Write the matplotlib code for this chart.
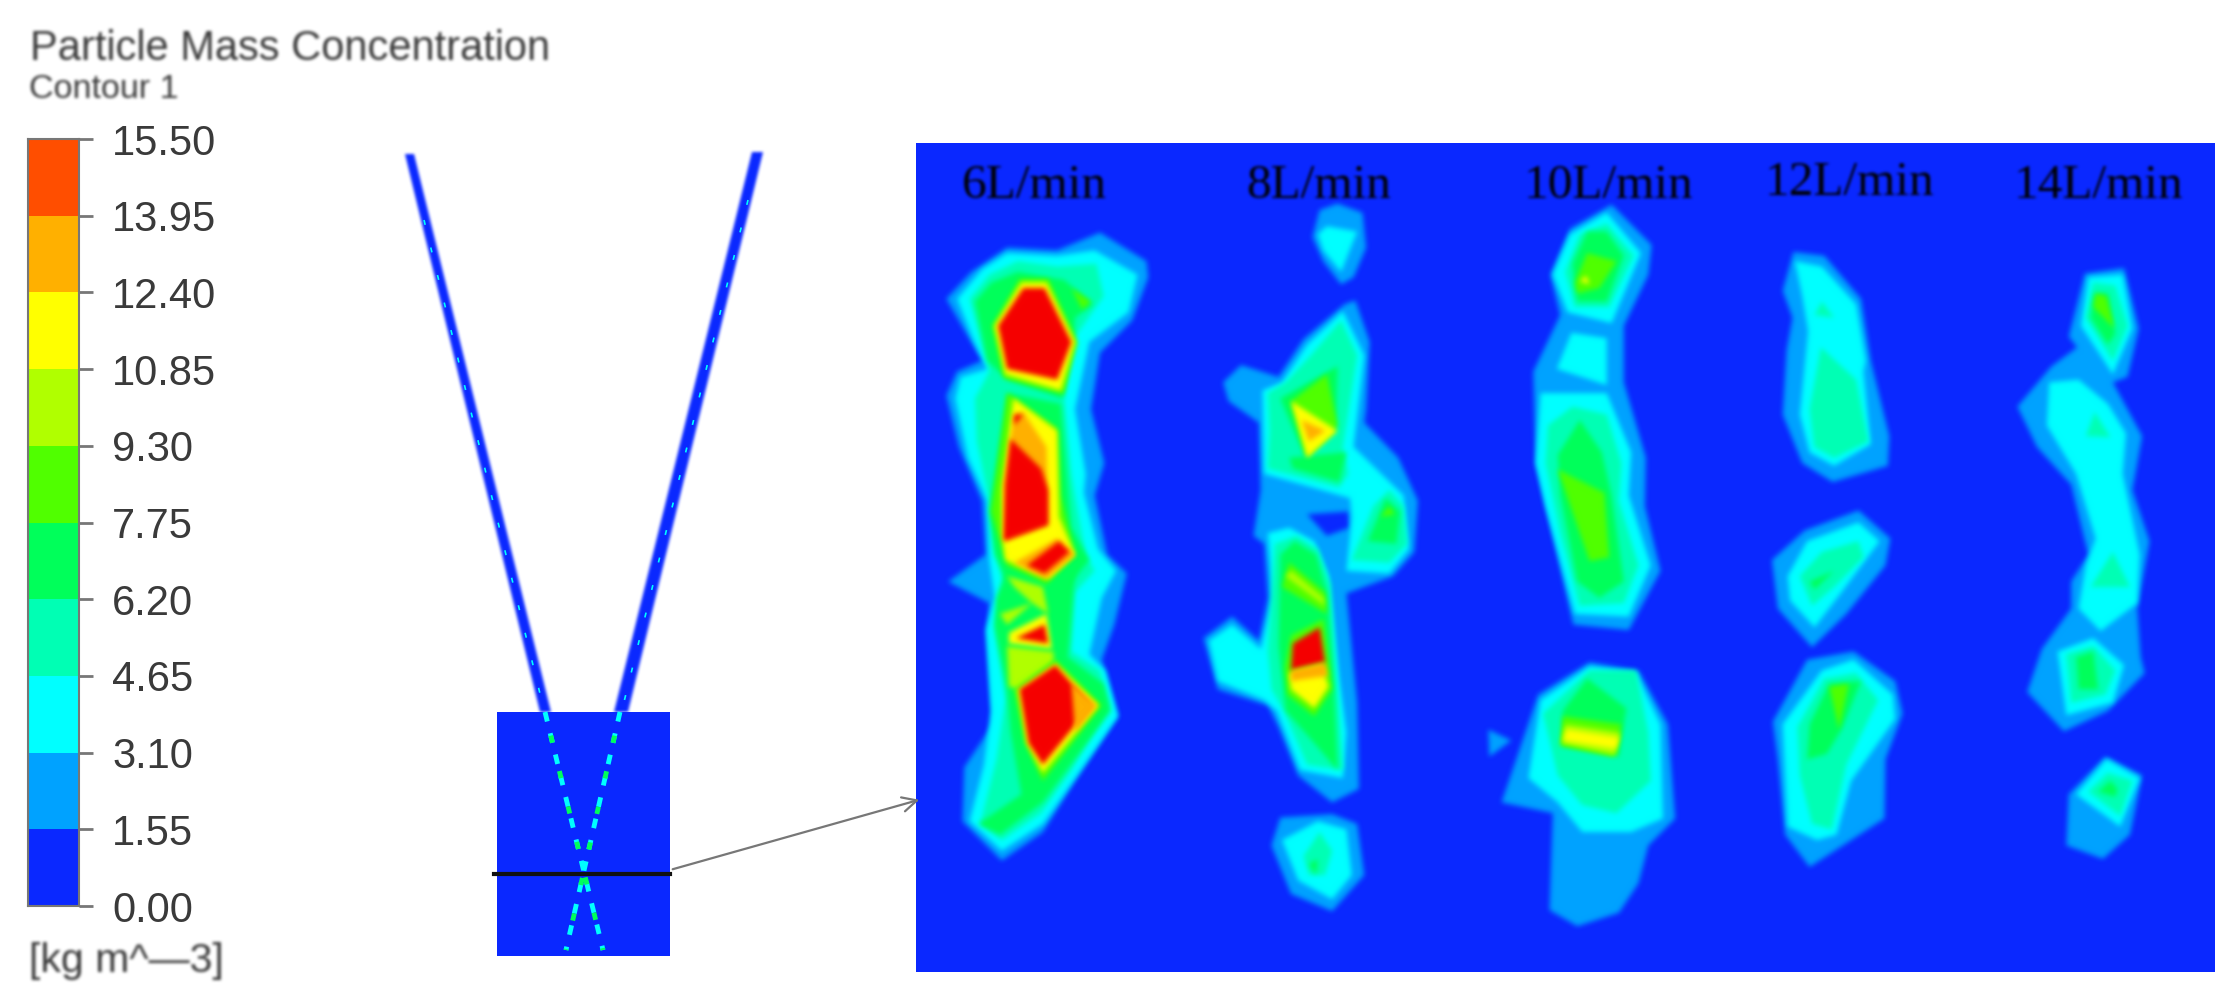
import numpy as np
import matplotlib
matplotlib.use('Agg')
import matplotlib.pyplot as plt
from matplotlib.colors import to_rgb

# legend levels and colours
levels = [0.00, 1.55, 3.10, 4.65, 6.20, 7.75, 9.30, 10.85, 12.40, 13.95, 15.50]
level_labels = ['0.00', '1.55', '3.10', '4.65', '6.20', '7.75', '9.30', '10.85', '12.40', '13.95', '15.50']
level_colors = ['#0a28ff', '#00a2ff', '#00ffff', '#00ffb4', '#00ff5a', '#50ff00',
                '#b0ff00', '#ffff00', '#ffb000', '#ff4e00']
RED = '#f50000'
cols = level_colors + [RED]

flow_labels = ['6L/min', '8L/min', '10L/min', '12L/min', '14L/min']
flow_x = [1034, 1319, 1608, 1849, 2098]
flow_y = [186, 186, 186, 183, 186]

# contour bands: (band, outline), outline
blobs_6 = [
    (1, [(130,295),(200,245),(300,200),(440,205),(560,172),(690,225),(695,255),(650,335),(560,395),(535,500),(572,600),(545,660),(580,770),(635,805),(600,900),(565,965),(610,1070),(490,1190),(400,1285),(285,1338),(175,1265),(180,1165),(260,1085),(245,900),(250,860),(135,820),(240,770),(230,670),(165,570),(130,475),(160,430),(230,410)]),
    (2, [(160,295),(230,240),(300,210),(440,215),(545,205),(665,250),(640,320),(530,375),(490,500),(520,620),(515,655),(555,760),(605,800),(565,850),(530,955),(575,985),(610,1070),(490,1185),(400,1270),(285,1320),(195,1265),(235,1160),(255,1060),(240,910),(265,850),(250,780),(245,670),(190,590),(155,480),(170,440),(245,425),(205,370)]),
    (3, [(195,295),(250,250),(330,225),(440,235),(550,230),(570,290),(480,375),(460,480),(480,620),(490,660),(520,770),(545,800),(490,840),(480,950),(560,985),(585,1050),(480,1170),(395,1250),(285,1300),(225,1270),(270,1150),(295,1040),(265,910),(285,820),(260,720),(250,670),(215,560),(210,480),(250,430)]),
    (4, [(210,300),(255,265),(330,245),(460,260),(540,305),(490,330),(485,375),(455,480),(300,445),(245,410)]),
    (4, [(250,690),(300,470),(450,490),(480,720),(530,780),(470,830),(300,820),(265,770)]),
    (4, [(265,900),(270,850),(300,800),(490,800),(470,960),(570,1010),(590,1060),(400,1230),(280,1290),(220,1270),(340,1215),(310,1100),(300,1020)]),
    (5, [(480,275),(535,300),(510,315)]),
    (5, [(258,345),(335,258),(415,258),(497,375),(458,472),(290,442)]),
    (7, [(265,345),(340,265),(410,265),(490,375),(450,465),(295,435)]),
    (10, [(275,345),(345,275),(405,275),(480,375),(440,445),(300,425)]),
    (5, [(300,470),(440,535),(450,660),(490,770),(410,825),(300,790),(255,690)]),
    (7, [(318,480),(440,540),(445,700),(490,770),(415,815),(295,780),(285,730),(285,650)]),
    (8, [(320,510),(345,505),(410,570),(415,715),(295,745),(290,640),(310,550)]),
    (10, [(310,555),(395,610),(415,650),(415,715),(290,745),(295,640)]),
    (10, [(320,530),(345,510),(320,510)]),
    (8, [(320,785),(440,740),(490,770),(410,815)]),
    (10, [(355,790),(445,745),(475,765),(405,805)]),
    (6, [(300,810),(400,830),(415,880),(370,860),(320,830)]),
    (6, [(280,880),(370,860),(300,900)]),
    (7, [(305,915),(410,880),(425,945),(305,935)]),
    (10, [(325,925),(405,900),(415,935)]),
    (6, [(300,940),(430,950),(430,970),(330,1020),(305,1015)]),
    (5, [(320,1020),(435,965),(565,1050),(400,1190),(350,1120)]),
    (7, [(330,1020),(435,972),(555,1050),(400,1175),(355,1120)]),
    (10, [(335,1020),(435,975),(535,1050),(400,1160),(360,1120)]),
    (8, [(480,1010),(552,1050),(490,1100)]),
]

blobs_8 = [
    (1, [(1155,180),(1175,130),(1225,118),(1295,135),(1305,200),(1270,255),(1235,268),(1185,225)]),
    (2, [(1170,175),(1195,160),(1280,170),(1235,245),(1185,205)]),
    (1, [(905,450),(955,418),(1060,440),(1130,370),(1245,305),(1275,298),(1315,375),(1305,500),(1300,525),(1395,590),(1450,670),(1440,765),(1380,810),(1250,842),(1280,1045),(1285,1205),(1210,1230),(1115,1180),(1060,1090),(1030,1050),(890,1020),(850,925),(930,885),(1005,930),(1030,850),(1020,750),(990,735),(1010,650),(1005,525),(920,485)]),
    (0, [(1140,695),(1255,690),(1258,720),(1195,735)]),
    (2, [(1015,465),(1070,450),(1140,380),(1240,318),(1300,400),(1270,570),(1410,660),(1425,760),(1370,805),(1250,800),(1265,700),(1260,665),(1020,620)]),
    (2, [(1030,730),(1090,720),(1160,745),(1200,810),(1230,1000),(1250,1100),(1240,1185),(1120,1170),(1055,1060),(1020,1040),(890,1005),(865,930),(930,900),(1010,945),(1045,850)]),
    (3, [(1030,470),(1080,450),(1150,400),(1235,335),(1280,400),(1240,570),(1255,620),(1230,645),(1030,610),(1035,540)]),
    (4, [(1090,590),(1250,580),(1230,635),(1100,610)]),
    (4, [(1065,480),(1225,420),(1220,540),(1135,590)]),
    (5, [(1095,485),(1195,435),(1225,530),(1140,590)]),
    (7, [(1095,485),(1225,540),(1140,590)]),
    (8, [(1125,520),(1190,540),(1145,560)]),
    (3, [(1265,780),(1325,680),(1370,650),(1410,680),(1420,750),(1370,785)]),
    (4, [(1310,745),(1360,665),(1400,690),(1390,750)]),
    (5, [(1345,700),(1370,680),(1385,695)]),
    (3, [(1050,750),(1110,735),(1170,760),(1205,825),(1225,1020),(1240,1170),(1140,1160),(1075,1060),(1040,1020),(1030,950)]),
    (4, [(1065,770),(1105,745),(1165,770),(1195,840),(1215,1020),(1225,1170),(1160,1120),(1080,1060),(1060,940)]),
    (5, [(1070,830),(1090,785),(1190,840),(1195,880)]),
    (6, [(1080,810),(1095,800),(1185,850),(1190,865)]),
    (5, [(1078,980),(1095,920),(1185,890),(1210,1020),(1160,1070),(1085,1030)]),
    (7, [(1090,990),(1180,975),(1200,1015),(1160,1055),(1095,1020)]),
    (10, [(1100,935),(1175,905),(1190,970),(1095,985)]),
    (8, [(1095,985),(1190,970),(1198,995),(1095,1005)]),
    (1, [(1040,1310),(1065,1258),(1210,1252),(1280,1270),(1300,1365),(1210,1432),(1095,1400)]),
    (2, [(1070,1300),(1170,1265),(1250,1280),(1265,1365),(1210,1410),(1115,1375)]),
    (3, [(1130,1330),(1175,1285),(1210,1320),(1190,1365),(1145,1365)]),
    (4, [(1145,1345),(1170,1335),(1165,1365)]),
]

blobs_10 = [
    (1, [(185,250),(225,165),(310,120),(392,195),(385,250),(335,345),(335,450),(380,590),(378,680),(410,800),(345,910),(232,900),(155,600),(150,430),(205,325)]),
    (2, [(190,250),(225,175),(300,135),(370,210),(310,340),(220,320)]),
    (3, [(215,245),(245,175),(300,155),(355,215),(305,310),(235,310)]),
    (4, [(230,230),(260,170),(300,170),(335,215),(300,300),(240,300)]),
    (5, [(235,265),(260,210),(320,225),(285,275),(240,285)]),
    (7, [(245,262),(258,252),(265,268)]),
    (2, [(198,425),(228,358),(300,368),(300,455)]),
    (2, [(165,470),(300,470),(350,580),(345,660),(390,790),(345,885),(235,880),(175,680),(155,600)]),
    (3, [(180,530),(230,495),(300,510),(330,600),(325,670),(365,790),(335,860),(245,865),(205,730),(175,600)]),
    (4, [(200,585),(245,520),(290,580),(310,660),(335,820),(285,850),(240,820),(205,660)]),
    (5, [(200,612),(295,655),(305,775),(265,782)]),
    (1, [(85,1230),(160,1030),(265,970),(365,985),(425,1085),(440,1260),(385,1310),(365,1380),(325,1435),(240,1460),(183,1430),(190,1250)]),
    (1, [(58,1095),(105,1115),(60,1145)]),
    (2, [(140,1185),(165,1040),(265,978),(360,990),(410,1085),(415,1260),(350,1285),(250,1285),(200,1230)]),
    (3, [(170,1065),(265,985),(360,985),(385,1100),(390,1190),(320,1250),(250,1235),(200,1180)]),
    (4, [(210,1060),(260,1000),(340,1055),(325,1145),(210,1125)]),
    (5, [(210,1070),(330,1085),(315,1145),(205,1125)]),
    (6, [(215,1085),(328,1100),(318,1142),(208,1120)]),
    (7, [(218,1095),(325,1110),(318,1130),(212,1115)]),
]

blobs_12 = [
    (1, [(660,280),(682,208),(745,215),(820,295),(840,410),(878,550),(875,605),(762,635),(700,600),(660,510),(668,390),(680,330)]),
    (2, [(685,225),(740,235),(810,305),(830,410),(825,430),(840,565),(765,605),(715,580),(695,510),(712,355),(700,290)]),
    (3, [(738,385),(810,445),(835,560),(765,590),(725,570),(715,500)]),
    (3, [(725,325),(740,300),(765,330)]),
    (1, [(638,780),(705,725),(815,688),(880,740),(870,790),(790,880),(720,942),(650,870)]),
    (2, [(670,810),(710,745),(815,710),(858,745),(780,840),(725,905),(675,855)]),
    (3, [(695,810),(740,765),(815,745),(825,775),(765,830),(720,865)]),
    (4, [(715,820),(765,800),(725,835)]),
    (1, [(640,1080),(710,965),(805,950),(890,1005),(905,1065),(870,1150),(868,1260),(715,1350),(665,1290),(650,1150)]),
    (2, [(660,1085),(740,985),(805,965),(885,1030),(890,1075),(800,1190),(770,1290),(730,1300),(670,1275)]),
    (3, [(690,1090),(745,1000),(810,990),(855,1040),(790,1160),(760,1280),(720,1270),(695,1180)]),
    (4, [(710,1150),(715,1085),(755,1010),(820,1005),(780,1095),(750,1140)]),
    (5, [(755,1015),(795,1010),(775,1095)]),
]

blobs_14 = [
    (1, [(1140,495),(1210,420),(1262,385),(1245,365),(1278,248),(1358,238),(1388,350),(1365,440),(1335,450),(1395,550),(1375,650),(1410,745),(1385,870),(1392,960),(1400,990),(1325,1060),(1235,1098),(1160,1025),(1190,945),(1250,870),(1250,820),(1285,770),(1250,640),(1180,570)]),
    (2, [(1270,345),(1285,255),(1355,250),(1375,350),(1335,435)]),
    (3, [(1280,330),(1295,265),(1340,270),(1365,345),(1335,410)]),
    (4, [(1290,330),(1298,285),(1325,285),(1340,360),(1325,380)]),
    (5, [(1295,310),(1300,285),(1322,290),(1338,350)]),
    (2, [(1200,530),(1205,450),(1265,445),(1325,490),(1362,545),(1355,620),(1390,770),(1385,860),(1310,912),(1265,870),(1280,790),(1300,740),(1260,620)]),
    (3, [(1280,550),(1298,505),(1330,552)]),
    (3, [(1290,830),(1335,765),(1370,830)]),
    (2, [(1222,950),(1295,925),(1358,975),(1335,1045),(1240,1068)]),
    (3, [(1240,955),(1295,940),(1340,985),(1320,1030),(1250,1045)]),
    (4, [(1260,960),(1295,950),(1305,1020),(1265,1020)]),
    (1, [(1245,1215),(1320,1145),(1395,1180),(1370,1290),(1315,1335),(1240,1310)]),
    (2, [(1260,1215),(1322,1150),(1390,1185),(1350,1275)]),
    (3, [(1285,1210),(1325,1175),(1375,1190),(1350,1255)]),
    (4, [(1305,1210),(1330,1190),(1345,1205),(1340,1220)]),
]


def soften(color, sigma=2, pad=8):
    # the picture is a blurry scan, so every shape gets a small blur on its alpha
    rgb = to_rgb(color)

    def flt(img, dpi):
        a = np.pad(img[:, :, 3], pad)
        for axis in (0, 1):
            for _ in range(3):
                a = np.apply_along_axis(lambda m: np.convolve(m, np.ones(2 * sigma + 1) / (2 * sigma + 1), mode='same'), axis, a)
        out = np.ones(a.shape + (4,))
        out[:, :, 0], out[:, :, 1], out[:, :, 2] = rgb
        out[:, :, 3] = a
        return out, -pad, -pad
    return flt


fig = plt.figure(figsize=(22.37, 10.08), dpi=100)
ax = fig.add_axes([0, 0, 1, 1])
ax.set_xlim(0, 2237)
ax.set_ylim(1008, 0)
ax.axis('off')

plt.rcParams['font.family'] = ['Liberation Sans']
GREY = '#3a3a3a'


def put(x, y, s, size, family='Liberation Sans', color=GREY, ha='left'):
    t = ax.text(x, y, s, fontsize=size, family=family, color=color, ha=ha, va='center')
    t.set_agg_filter(soften(color, 1, 4))


put(30, 49, 'Particle Mass Concentration', 30)
put(29, 90, 'Contour 1', 24.5)
put(29, 961, '[kg m^\u20143]', 29.5)

# legend bar on its own axis, 0 to 15.5
cax = fig.add_axes([28 / 2237, 1 - 906 / 1008, 51 / 2237, 767 / 1008])
cax.bar(0, np.diff(levels), bottom=levels[:-1], width=1, color=level_colors)
cax.set_xlim(-0.5, 0.5)
cax.set_ylim(0, 15.5)
cax.set_xticks([])
cax.set_yticks(levels)
cax.set_yticklabels(level_labels, fontsize=30, color=GREY, ha='left')
cax.yaxis.tick_right()
cax.tick_params(axis='y', length=10, width=2, color='#777777', pad=14)
for s in cax.spines.values():
    s.set_color('#777777')
    s.set_linewidth(1.5)

# the V shaped jet and the small box
ax.fill([405, 414, 551, 540], [154, 154, 712, 712], color=level_colors[0], lw=0, zorder=2, agg_filter=soften(level_colors[0], 1, 4))
ax.fill([752, 763, 628, 614], [152, 152, 712, 712], color=level_colors[0], lw=0, zorder=2, agg_filter=soften(level_colors[0], 1, 4))
ax.plot([424, 544], [220, 710], color=level_colors[2], lw=1.2, ls=(0, (3, 14)), zorder=3)
ax.plot([748, 622], [200, 710], color=level_colors[2], lw=1.2, ls=(0, (3, 14)), zorder=3)
ax.fill([497, 670, 670, 497], [712, 712, 956, 956], color=level_colors[0], lw=0, zorder=2)
for x0, x1 in [(545, 603), (620, 566)]:
    ax.plot([x0, x1], [712, 950], color=level_colors[2], lw=3.5, ls=(0, (2, 2.5)), zorder=3)
    ax.plot([x0, x1], [712, 950], color=level_colors[4], lw=3.5, ls=(2.5, (1.5, 6)), zorder=3)
ax.plot([494, 670], [874, 874], color='#111111', lw=3, zorder=4)

ax.annotate('', xy=(922, 799), xytext=(670, 870), zorder=5,
            arrowprops=dict(arrowstyle='->', color='#777777', lw=1.6, mutation_scale=26))

# right panel with the cross sections
ax.fill([916, 2215, 2215, 916], [143, 143, 972, 972], color=level_colors[0], lw=0, zorder=2)

for blobs, x0, sx in [(blobs_6, 900, 2.8), (blobs_8, 900, 2.8), (blobs_10, 1460, 2.045),
                      (blobs_12, 1460, 2.045), (blobs_14, 1460, 2.045)]:
    for band, pts in blobs:
        xs = [x0 + p[0] / sx for p in pts]
        ys = [140 + p[1] / 1.857 for p in pts]
        ax.fill(xs, ys, color=cols[band], lw=0, zorder=3, agg_filter=soften(cols[band]))

for s, x, y in zip(flow_labels, flow_x, flow_y):
    t = ax.text(x, y, s, fontsize=35.5, family='Liberation Serif', color='black', ha='center', va='center', zorder=6)
    t.set_agg_filter(soften('black', 1, 4))

fig.savefig('out.png', dpi=100)
